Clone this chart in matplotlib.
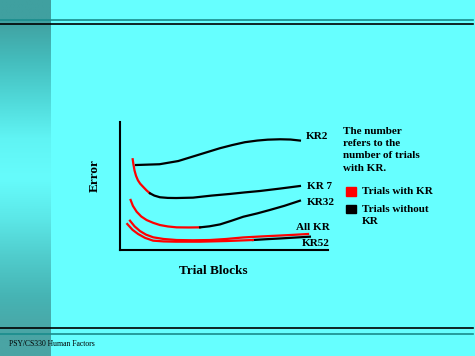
import matplotlib
matplotlib.use("Agg")
import matplotlib.pyplot as plt
import numpy as np
from matplotlib.lines import Line2D
from matplotlib.patches import Rectangle

# data: trial block (x) vs error (y)
kr2_x = [0.77, 1.9, 2.8, 3.5, 4.2, 4.8, 5.4, 6.0, 6.6, 7.1, 7.7, 8.2, 8.65]
kr2_y = [6.64, 6.70, 6.95, 7.3, 7.65, 7.95, 8.2, 8.42, 8.55, 8.62, 8.65, 8.63, 8.55]

kr7_red_x = [0.61, 0.65, 0.70, 0.77, 0.86, 0.97, 1.12, 1.28, 1.44]
kr7_red_y = [7.09, 6.65, 6.2, 5.8, 5.45, 5.18, 4.92, 4.65, 4.43]
kr7_blk_x = [1.44, 1.65, 1.92, 2.3, 2.7, 3.51, 4.4, 5.29, 6.0, 6.73, 7.7, 8.65]
kr7_blk_y = [4.43, 4.25, 4.12, 4.07, 4.06, 4.09, 4.25, 4.38, 4.5, 4.61, 4.8, 5.0]

kr32_red_x = [0.51, 0.62, 0.80, 1.02, 1.28, 1.6, 1.92, 2.3, 2.72, 3.3, 3.85]
kr32_red_y = [3.91, 3.45, 2.99, 2.62, 2.34, 2.12, 1.95, 1.84, 1.77, 1.76, 1.77]
kr32_blk_x = [3.85, 4.3, 4.81, 5.35, 5.93, 6.6, 7.21, 7.9, 8.65]
kr32_blk_y = [1.77, 1.85, 2.0, 2.28, 2.60, 2.86, 3.13, 3.45, 3.85]

allkr_x = [0.48, 0.7, 0.96, 1.25, 1.60, 2.1, 2.72, 3.5, 4.33, 5.1, 5.91, 6.8, 7.69, 8.4, 9.04]
allkr_y = [2.29, 1.85, 1.48, 1.2, 0.99, 0.86, 0.78, 0.76, 0.78, 0.86, 0.98, 1.06, 1.13, 1.19, 1.25]

kr52_red_x = [0.35, 0.6, 0.87, 1.2, 1.59, 2.1, 2.69, 3.85, 5.1, 6.39]
kr52_red_y = [2.03, 1.58, 1.25, 0.95, 0.73, 0.67, 0.65, 0.65, 0.7, 0.78]
kr52_blk_x = [6.39, 7.0, 7.69, 8.4, 9.13]
kr52_blk_y = [0.78, 0.84, 0.90, 0.97, 1.04]

labels = ["KR2", "KR 7", "KR32", "All KR", "KR52"]
label_x = [8.94, 8.97, 8.97, 8.45, 8.73]
label_y = [8.83, 4.99, 3.70, 1.74, 0.52]

W, H = 475, 356
BG = "#66ffff"


def fx(px):
    return px / W


def fy(py):
    return 1 - py / H


fig = plt.figure(figsize=(W / 100, H / 100), dpi=100, facecolor=BG)

# left gradient strip
strip = fig.add_axes([0, 0, fx(51), 1])
grad = np.array([
    [0x40, 0xa0, 0xa0], [0x44, 0xbc, 0xbc], [0x50, 0xd8, 0xd8],
    [0x60, 0xf4, 0xf4], [0x66, 0xfc, 0xfc], [0x5c, 0xe8, 0xe8],
    [0x50, 0xcc, 0xcc], [0x46, 0xb4, 0xb4], [0x4a, 0xa4, 0xa4],
]) / 255.0
strip.imshow(grad[:, None, :], aspect="auto", interpolation="bilinear",
             extent=[0, 1, 0, 1])
strip.axis("off")

# horizontal rules
for py, col in [(19.5, "#1a8c8c"), (23.5, "black"), (327.5, "black"), (333.5, "#1a8c8c")]:
    fig.add_artist(Line2D([0, fx(473)], [fy(py), fy(py)], color=col, lw=1.2))

ax = fig.add_axes([fx(120), fy(250), fx(208), 128 / H])
ax.set_facecolor(BG)
ax.set_xlim(0, 10)
ax.set_ylim(0, 10)
for s in ["top", "right"]:
    ax.spines[s].set_visible(False)
for s in ["left", "bottom"]:
    ax.spines[s].set_linewidth(1.5)
ax.set_xticks([])
ax.set_yticks([])

lw = 1.6
ax.plot(kr2_x, kr2_y, color="black", lw=lw)
ax.plot(kr7_red_x, kr7_red_y, color="red", lw=lw)
ax.plot(kr7_blk_x, kr7_blk_y, color="black", lw=lw)
ax.plot(kr32_red_x, kr32_red_y, color="red", lw=lw)
ax.plot(kr32_blk_x, kr32_blk_y, color="black", lw=lw)
ax.plot(kr52_blk_x, kr52_blk_y, color="black", lw=lw)
ax.plot(kr52_red_x, kr52_red_y, color="red", lw=lw)
ax.plot(allkr_x, allkr_y, color="red", lw=lw)

serif = "Liberation Serif"
for t, x, y in zip(labels, label_x, label_y):
    ax.text(x, y, t, fontsize=8, fontweight="bold", family=serif,
            ha="left", va="center", clip_on=False)

fig.text(fx(213), fy(271), "Trial Blocks", fontsize=9.5, fontweight="bold",
         family=serif, ha="center", va="center")
fig.text(fx(95), fy(176), "Error", fontsize=9.5, fontweight="bold",
         family=serif, ha="center", va="center", rotation=90)

fig.text(fx(343), fy(126.5), "The number\nrefers to the\nnumber of trials\nwith KR.",
         fontsize=8, fontweight="bold", family=serif, ha="left", va="top",
         linespacing=1.48)

fig.add_artist(Rectangle((fx(345.5), fy(195.5)), fx(10), 9 / H, color="red"))
fig.text(fx(362), fy(191.5), "Trials with KR", fontsize=8, fontweight="bold",
         family=serif, ha="left", va="center")
fig.add_artist(Rectangle((fx(345.5), fy(212.5)), fx(10), 8 / H, color="black"))
fig.text(fx(362), fy(204.5), "Trials without\nKR", fontsize=8, fontweight="bold",
         family=serif, ha="left", va="top", linespacing=1.48)

fig.text(fx(9), fy(344), "PSY/CS330 Human Factors", fontsize=5.5,
         family=serif, ha="left", va="center")

fig.savefig("out.png", dpi=100, facecolor=BG)
